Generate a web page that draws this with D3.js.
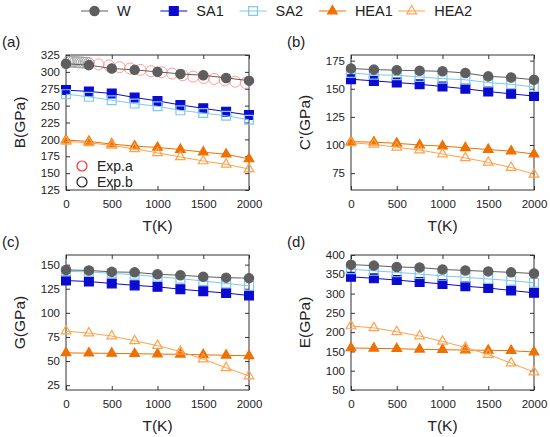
<!DOCTYPE html>
<html>
<head>
<meta charset="utf-8">
<script src="https://cdn.jsdelivr.net/npm/d3@7"></script>
<style>
  body { margin: 0; background: #fff; }
  text { font-family: "Liberation Sans", Arial, sans-serif; fill: #222; }
</style>
</head>
<body>
<script>

// temperatures (K) shared by all four panels
const temps = [0, 250, 500, 750, 1000, 1250, 1500, 1750, 2000];
const series_names = ['W', 'SA1', 'SA2', 'HEA1', 'HEA2'];

// (a) bulk modulus B
const b_W    = [312, 310, 305, 303, 300, 297, 295, 291, 287];
const b_SA1  = [273, 271, 268, 262, 257, 251, 246, 241, 236];
const b_SA2  = [267, 263, 258, 253, 249, 243, 239, 235, 229];
const b_HEA1 = [199, 197, 193, 190, 188, 185, 181, 178, 171];
const b_HEA2 = [197, 195, 191, 186, 180, 174, 168, 163, 156];

// (a) experimental points
const expa_T = [355, 470, 585, 700, 815, 930, 1045, 1160, 1275, 1390, 1505, 1620, 1735, 1850, 1965];
const expa_B = [311, 309.5, 307, 305, 303, 301, 299.5, 297.5, 295, 293, 291, 289.5, 287.5, 285.5, 283.5];
const expb_T = [25, 50, 75, 100, 125, 150, 175, 200, 225, 250];
const expb_B = [315, 315, 315, 314.5, 314.5, 314, 314, 313.5, 313.5, 313];

// (b) C'
const c_W    = [168, 167, 166.5, 166, 165.5, 164, 161, 160, 158];
const c_SA1  = [158.5, 157, 155.5, 154, 152, 150, 147.5, 145.5, 143.5];
const c_SA2  = [164, 162.5, 162, 160.5, 159, 158, 155.5, 154, 151.5];
const c_HEA1 = [103, 102.5, 101.5, 100, 99, 97.5, 96, 94.5, 92];
const c_HEA2 = [102, 100.5, 98, 95.5, 92, 88.5, 84.5, 80, 74];

// (c) shear modulus G
const g_W    = [144.5, 144, 142.5, 142, 140, 139, 137.5, 136.5, 136];
const g_SA1  = [133.5, 132.5, 130.5, 128.5, 127, 124.5, 122.5, 120.5, 118];
const g_SA2  = [143, 142.5, 141, 139.5, 137.5, 135.5, 133, 130.5, 128];
const g_HEA1 = [58.5, 58.2, 58, 57.6, 57.3, 57, 56.5, 56, 55.5];
const g_HEA2 = [81, 79, 76, 71, 66, 60, 52, 43, 34.5];

// (d) Young's modulus E
const e_W    = [375, 372.5, 369, 367.5, 362.5, 360, 357.5, 355, 352];
const e_SA1  = [343.5, 339.5, 335, 330, 325, 319, 314.5, 308, 302];
const e_SA2  = [363, 359, 355, 350.5, 346, 342, 338, 333.5, 328];
const e_HEA1 = [159, 158, 157, 155.5, 154.5, 153.5, 153, 152, 148.5];
const e_HEA2 = [216, 211, 201, 190, 176, 160, 142, 119.5, 96.5];

// axis ticks
const x_ticks = [0, 500, 1000, 1500, 2000];
const b_ticks = [125, 150, 175, 200, 225, 250, 275, 300, 325];
const c_ticks = [75, 100, 125, 150, 175];
const g_ticks = [25, 50, 75, 100, 125, 150];
const e_ticks = [50, 100, 150, 200, 250, 300, 350, 400];

const style = {
	W:    {color: '#5e5e5e', shape: d3.symbolCircle,   size: 68, filled: true},
	SA1:  {color: '#0a0ad0', shape: d3.symbolSquare,   size: 78, filled: true},
	SA2:  {color: '#7fc8ee', shape: d3.symbolSquare,   size: 78, filled: false},
	HEA1: {color: '#ef7000', shape: d3.symbolTriangle, size: 40, filled: true},
	HEA2: {color: '#ffa24a', shape: d3.symbolTriangle, size: 40, filled: false}
};
const draw_order = ['HEA1', 'HEA2', 'SA1', 'SA2', 'W'];

const panels = [
	{tag: '(a)', ylabel: 'B(GPa)',  ydom: [125, 325], yticks: b_ticks,
		box: [66, 249, 55, 190], vals: [b_W, b_SA1, b_SA2, b_HEA1, b_HEA2]},
	{tag: '(b)', ylabel: "C'(GPa)", ydom: [60, 180], yticks: c_ticks,
		box: [351, 534, 55, 190], vals: [c_W, c_SA1, c_SA2, c_HEA1, c_HEA2]},
	{tag: '(c)', ylabel: 'G(GPa)',  ydom: [20, 160], yticks: g_ticks,
		box: [66, 249, 255, 390], vals: [g_W, g_SA1, g_SA2, g_HEA1, g_HEA2]},
	{tag: '(d)', ylabel: 'E(GPa)',  ydom: [50, 400], yticks: e_ticks,
		box: [351, 534, 255, 390], vals: [e_W, e_SA1, e_SA2, e_HEA1, e_HEA2]}
];

const svg = d3.select('body').append('svg')
	.attr('width', 550)
	.attr('height', 437);

const marker = function(sel, name){
	const s = style[name];
	sel.attr('d', d3.symbol().type(s.shape).size(s.size))
		.attr('fill', s.filled ? s.color : 'none')
		.attr('stroke', s.color)
		.attr('stroke-width', 1.2);
};

const draw_panel = function(p){

	const [x0, x1, y0, y1] = p.box;
	const x = d3.scaleLinear().domain([0, 2000]).range([x0, x1]);
	const y = d3.scaleLinear().domain(p.ydom).range([y1, y0]);
	const g = svg.append('g');

	// axes, ticks pointing inward and mirrored
	const ax = [
		[d3.axisBottom(x).tickValues(x_ticks), y1, 'x', true],
		[d3.axisTop(x).tickValues(x_ticks),    y0, 'x', false],
		[d3.axisLeft(y).tickValues(p.yticks),  x0, 'y', true],
		[d3.axisRight(y).tickValues(p.yticks), x1, 'y', false]
	];
	ax.forEach(([axis, pos, dir, lab]) => {
		axis.tickSizeInner(-4).tickSizeOuter(0)
			.tickPadding(lab ? (dir === 'x' ? 10 : 6) : 0)
			.tickFormat(lab ? d3.format('d') : '');
		const a = g.append('g')
			.attr('transform', dir === 'x' ? `translate(0,${pos})` : `translate(${pos},0)`)
			.call(axis);
		a.select('.domain').remove();
		a.selectAll('line').attr('stroke', '#333');
		a.selectAll('text').attr('font-size', 11.5).attr('fill', '#222')
			.attr('font-family', '"Liberation Sans", Arial, sans-serif');
	});

	g.append('rect')
		.attr('x', x0).attr('y', y0)
		.attr('width', x1 - x0).attr('height', y1 - y0)
		.attr('fill', 'none').attr('stroke', '#333').attr('stroke-width', 1);

	g.append('text')
		.attr('x', (x0 + x1) / 2).attr('y', y1 + 41)
		.attr('text-anchor', 'middle').attr('font-size', 15.5)
		.text('T(K)');

	g.append('text')
		.attr('transform', `translate(${x0 - 41},${(y0 + y1) / 2}) rotate(-90)`)
		.attr('text-anchor', 'middle').attr('font-size', 15.5)
		.text(p.ylabel);

	g.append('text')
		.attr('x', x0 - 64).attr('y', y0 - 8)
		.attr('font-size', 15)
		.text(p.tag);

	// experimental data only in panel (a)
	if(p.tag === '(a)'){
		const exp_sets = [[expa_T, expa_B, '#ff9a9a'], [expb_T, expb_B, '#a8a8a8']];
		exp_sets.forEach(([ts, vs, col]) => {
			g.selectAll(null)
				.data(d3.zip(ts, vs))
				.enter()
			.append('circle')
				.attr('cx', d => x(d[0]))
				.attr('cy', d => y(d[1]))
				.attr('r', 5.5)
				.attr('fill', 'none')
				.attr('stroke', col)
				.attr('stroke-width', 1);
		});
		const exp_legend = [['Exp.a', '#ff3030'], ['Exp.b', '#222']];
		exp_legend.forEach(([name, col], i) => {
			g.append('circle')
				.attr('cx', x0 + 16).attr('cy', 166 + i * 16)
				.attr('r', 5).attr('fill', 'none')
				.attr('stroke', col).attr('stroke-width', 1.2);
			g.append('text')
				.attr('x', x0 + 31).attr('y', 171 + i * 16)
				.attr('font-size', 14)
				.text(name);
		});
	}

	draw_order.forEach(name => {
		const vals = p.vals[series_names.indexOf(name)];
		const pts = d3.zip(temps, vals);
		g.append('path')
			.attr('d', d3.line().x(d => x(d[0])).y(d => y(d[1]))(pts))
			.attr('fill', 'none')
			.attr('stroke', style[name].color)
			.attr('stroke-width', 1);
		g.selectAll(null)
			.data(pts)
			.enter()
		.append('path')
			.attr('transform', d => `translate(${x(d[0])},${y(d[1])})`)
			.call(marker, name);
	});
};

panels.forEach(draw_panel);

// top legend
const legend = svg.append('g');
series_names.forEach((name, i) => {
	const lx = 81 + i * 79.3;
	legend.append('line')
		.attr('x1', lx).attr('x2', lx + 27)
		.attr('y1', 11).attr('y2', 11)
		.attr('stroke', style[name].color).attr('stroke-width', 1);
	legend.append('path')
		.attr('transform', `translate(${lx + 13.5},11)`)
		.call(marker, name);
	legend.append('text')
		.attr('x', lx + 36).attr('y', 16)
		.attr('font-size', 14.5)
		.text(name);
});

</script>
</body>
</html>
